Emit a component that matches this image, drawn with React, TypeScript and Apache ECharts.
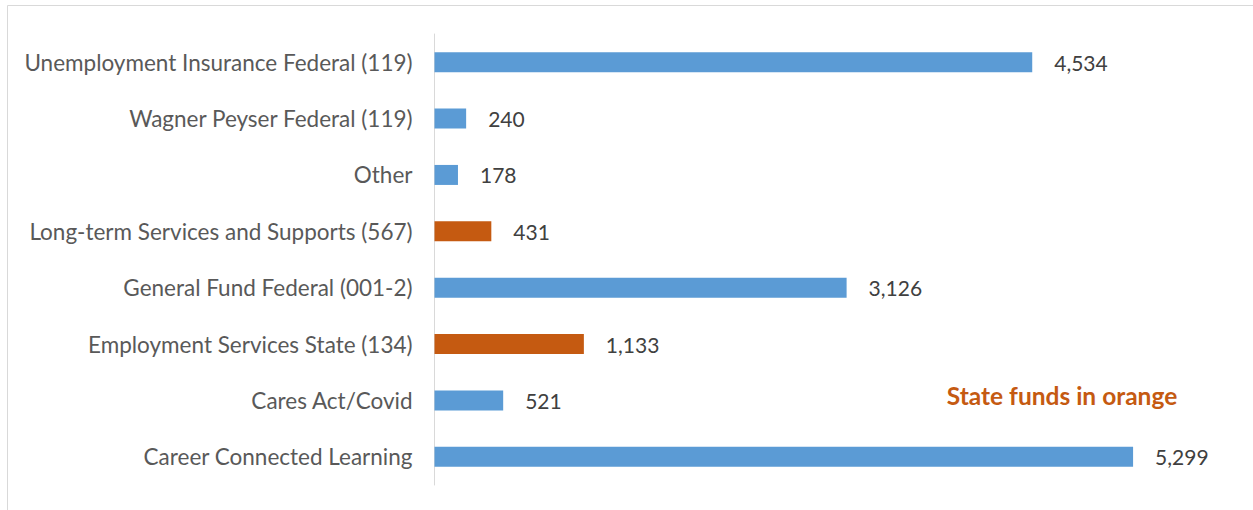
import React, { useEffect, useRef } from "react";
import * as echarts from "echarts";

const categories = [
  "Unemployment Insurance Federal (119)",
  "Wagner Peyser Federal (119)",
  "Other",
  "Long-term Services and Supports (567)",
  "General Fund Federal (001-2)",
  "Employment Services State (134)",
  "Cares Act/Covid",
  "Career Connected Learning",
];
const values = [4534, 240, 178, 431, 3126, 1133, 521, 5299];
const isState = [false, false, false, true, false, true, false, false];

const BLUE = "#5B9BD5";
const ORANGE = "#C55A11";
const FONT = "Lato, 'Open Sans', sans-serif";

export default function App() {
  const ref = useRef<HTMLDivElement>(null);
  useEffect(() => {
    document.body.style.margin = "0";
    const chart = echarts.init(ref.current!, null, { renderer: "svg" });
    const cats = [...categories].reverse();
    const vals = [...values].reverse();
    const st = [...isState].reverse();
    chart.setOption({
      animation: false,
      backgroundColor: "#ffffff",
      textStyle: { fontFamily: FONT },
      grid: { left: 434.5, top: 34, bottom: 25, right: 27.5, containLabel: false },
      xAxis: {
        type: "value",
        min: 0,
        max: 6000,
        show: false,
      },
      yAxis: {
        type: "category",
        data: cats,
        axisLine: { show: true, lineStyle: { color: "#d9d9d9", width: 1 } },
        axisTick: { show: false },
        axisLabel: {
          color: "#595959",
          fontSize: 22.5,
          margin: 22,
          fontFamily: FONT,
        },
      },
      series: [
        {
          type: "bar",
          barWidth: 20,
          data: vals.map((v, i) => ({
            value: v,
            itemStyle: { color: st[i] ? ORANGE : BLUE },
          })),
          label: {
            show: true,
            position: "right",
            distance: 22,
            color: "#404040",
            fontSize: 21,
            fontFamily: FONT,
            formatter: (p: any) => Number(p.value).toLocaleString("en-US"),
          },
        },
      ],
      graphic: [
        {
          type: "rect",
          shape: { x: 7.5, y: 5.5, width: 1300, height: 600 },
          style: { fill: "none", stroke: "#d9d9d9", lineWidth: 1 },
          silent: true,
        },
        {
          type: "text",
          x: 1062,
          y: 395,
          style: {
            text: "State funds in orange",
            fill: ORANGE,
            font: `bold 24.5px ${FONT}`,
            textAlign: "center",
            textVerticalAlign: "middle",
          },
        },
      ],
    });
    return () => chart.dispose();
  }, []);
  return (
    <div
      ref={ref}
      style={{ position: "absolute", left: 0, top: 0, width: 1253, height: 510 }}
    />
  );
}
